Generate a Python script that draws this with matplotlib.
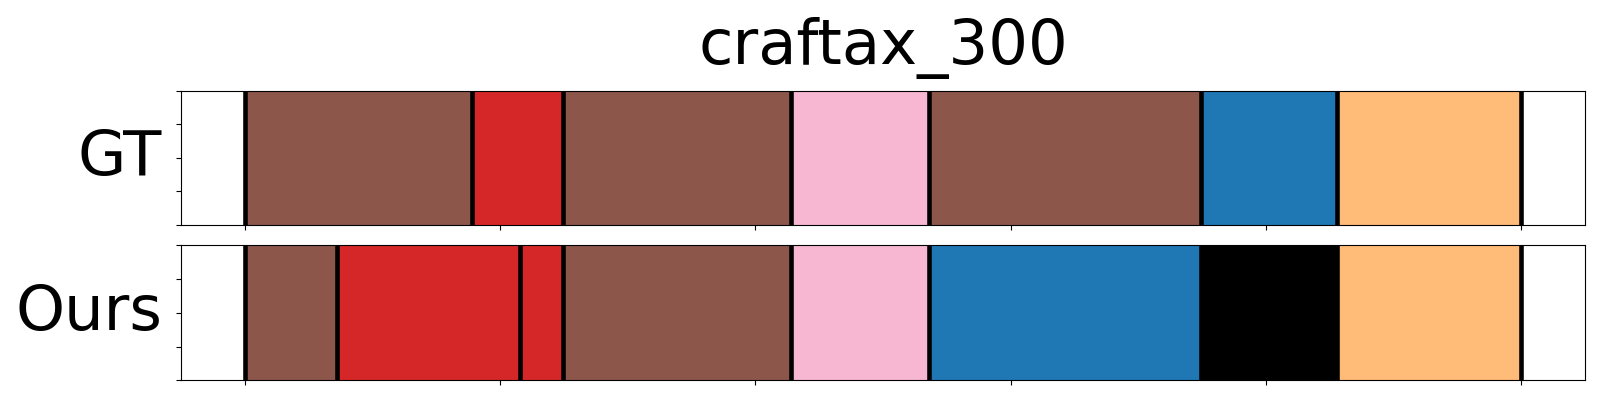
#!/usr/bin/env python3

import matplotlib
matplotlib.use( 'Agg' )
import matplotlib.pyplot as plt

title = 'craftax_300'

rows = [ 'GT', 'Ours' ]

# segment boundaries (frames) and segment colours for each row
gt_bounds   = [ 0, 44.5, 62.3, 107, 134, 187.3, 214, 250 ]
gt_colors   = [ '#8c564b', '#d62728', '#8c564b', '#f7b6d2', \
                '#8c564b', '#1f77b4', '#ffbb78' ]

ours_bounds = [ 0, 18, 54, 62.3, 107, 134, 187.3, 214, 250 ]
ours_colors = [ '#8c564b', '#d62728', '#d62728', '#8c564b', \
                '#f7b6d2', '#1f77b4', '#000000', '#ffbb78' ]

bounds = [ gt_bounds, ours_bounds ]
colors = [ gt_colors, ours_colors ]

xticks = [ 0, 50, 100, 150, 200, 250 ]
yticks = [ 0.0, 0.25, 0.5, 0.75, 1.0 ]

fig = plt.figure( figsize = ( 16, 4 ), dpi = 100 )
ax_top = fig.add_axes( [ 0.1131, 0.4375, 0.8775, 0.3355 ] )
ax_bot = fig.add_axes( [ 0.1131, 0.0493, 0.8775, 0.3375 ] )
axes = [ ax_top, ax_bot ]

for i in range( len( rows ) ):
    ax = axes[i]
    b  = bounds[i]
    for k in range( len( colors[i] ) ):
        ax.axvspan( b[k], b[k+1], ymin = 0, ymax = 1, \
                    color = colors[i][k], lw = 0, zorder = 1 )
    for x in b:
        ax.axvline( x, color = 'k', lw = 3.3, zorder = 2 )

    ax.set_xlim( b[0] - 0.05 * ( b[-1] - b[0] ), b[-1] + 0.05 * ( b[-1] - b[0] ) )
    ax.set_ylim( 0, 1 )
    ax.set_xticks( xticks )
    ax.set_xticklabels( [] )
    ax.set_yticks( yticks )
    ax.set_yticklabels( [] )
    ax.set_ylabel( rows[i], fontsize = 45, rotation = 0, \
                   ha = 'right', va = 'center' )
    ax.yaxis.set_label_coords( -0.0135, 0.5 )

ax_top.set_title( title, fontsize = 45, pad = 19 )

figName = 'out.png'
plt.savefig( figName, dpi = 100 )
print( '\n  Saved {:}'.format( figName ) )
